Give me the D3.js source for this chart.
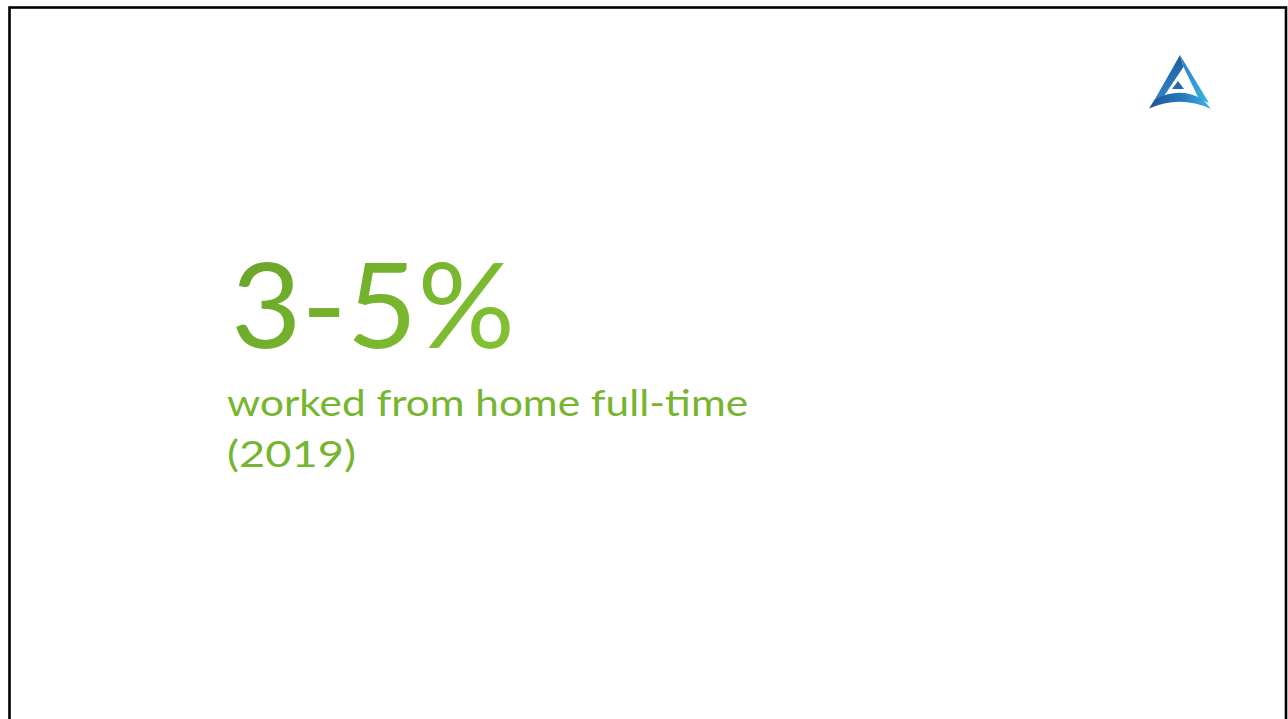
<!DOCTYPE html>
<html>
<head>
<meta charset="utf-8">
<script src="https://cdn.jsdelivr.net/npm/d3@7"></script>
<style>
  html, body { margin: 0; padding: 0; background: #ffffff; }
  svg { display: block; }
</style>
</head>
<body>
<div id="chart"></div>
<script>
// ---- data ----
const headline = ["3-5%"];
const captionLines = ["worked from home full-time", "(2019)"];
const captionWidths = [521, 129];

const W = 1288, H = 719;
const svg = d3.select("#chart").append("svg")
  .attr("width", W).attr("height", H);

const defs = svg.append("defs");
const g1 = defs.append("linearGradient").attr("id", "greenGrad")
  .attr("x1", "0%").attr("y1", "0%").attr("x2", "100%").attr("y2", "60%");
g1.append("stop").attr("offset", "0%").attr("stop-color", "#67a329");
g1.append("stop").attr("offset", "100%").attr("stop-color", "#80c031");

const gDark = defs.append("linearGradient").attr("id", "blueDark")
  .attr("x1", "0%").attr("y1", "0%").attr("x2", "0%").attr("y2", "100%");
gDark.append("stop").attr("offset", "0%").attr("stop-color", "#1f5c9e");
gDark.append("stop").attr("offset", "100%").attr("stop-color", "#2f86c8");

const gLight = defs.append("linearGradient").attr("id", "blueLight")
  .attr("x1", "0%").attr("y1", "0%").attr("x2", "100%").attr("y2", "100%");
gLight.append("stop").attr("offset", "0%").attr("stop-color", "#2f7dc2");
gLight.append("stop").attr("offset", "100%").attr("stop-color", "#35b4e4");

const gBand = defs.append("linearGradient").attr("id", "blueBand")
  .attr("x1", "0%").attr("y1", "0%").attr("x2", "100%").attr("y2", "0%");
gBand.append("stop").attr("offset", "0%").attr("stop-color", "#1b5598");
gBand.append("stop").attr("offset", "55%").attr("stop-color", "#2a78bc");
gBand.append("stop").attr("offset", "100%").attr("stop-color", "#38b8e4");

// slide border
svg.append("rect")
  .attr("x", 9.5).attr("y", 7.5)
  .attr("width", 1276.5).attr("height", 800)
  .attr("fill", "none").attr("stroke", "#000").attr("stroke-width", 2.6);

// logo
const logo = svg.append("g");
logo.append("path").attr("d", "M1180,55 L1183.5,67 L1164,96 L1155,99 Z").attr("fill", "url(#blueDark)");
logo.append("path").attr("d", "M1180,55 L1209,103 L1199,99 L1183.5,67 Z").attr("fill", "url(#blueLight)");
logo.append("path").attr("d", "M1178,81 L1184,89 L1172,89 Z").attr("fill", "#2767ab");
logo.append("path")
  .attr("d", "M1149,108.5 Q1180,95 1211,109 Q1205,101 1201,98.5 Q1180,87 1155,99 Z")
  .attr("fill", "url(#blueBand)");

// headline
const font = "Lato, 'Open Sans', sans-serif";
svg.selectAll("text.headline").data(headline).join("text")
  .attr("class", "headline")
  .attr("x", 231).attr("y", 348)
  .attr("font-family", font)
  .attr("font-size", 118)
  .attr("textLength", 284)
  .attr("lengthAdjust", "spacingAndGlyphs")
  .attr("fill", "url(#greenGrad)")
  .text(d => d);

// caption lines
const yLine = d3.scaleLinear().domain([0, 1]).range([416, 467]);
svg.selectAll("text.caption").data(captionLines).join("text")
  .attr("class", "caption")
  .attr("x", 227)
  .attr("y", (d, i) => yLine(i))
  .attr("font-family", font)
  .attr("font-size", 37)
  .attr("textLength", (d, i) => captionWidths[i])
  .attr("lengthAdjust", "spacingAndGlyphs")
  .attr("fill", "#76b52e")
  .text(d => d);
</script>
</body>
</html>
